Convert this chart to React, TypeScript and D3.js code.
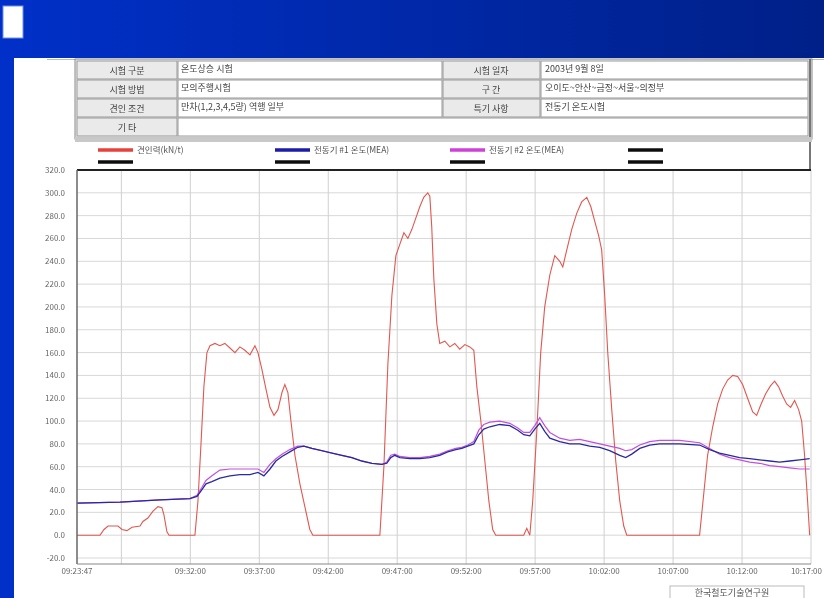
import React from "react";
import * as d3 from "d3";

// ---------- DATA ----------
// elapsed minutes since 09:23:47
const redT = [0,1.67,1.96,2.25,2.97,3.26,3.62,3.99,4.57,4.78,5.14,5.51,5.87,6.16,6.3,6.52,6.67,8.55,8.77,8.99,9.2,9.42,9.64,10.0,10.36,10.72,11.09,11.45,11.81,12.17,12.54,12.9,13.12,13.41,13.7,13.99,14.28,14.57,14.86,15.07,15.29,15.51,15.8,16.16,16.52,16.88,17.1,21.96,22.25,22.54,22.83,23.12,23.41,23.7,23.99,24.28,24.57,24.86,25.14,25.43,25.58,25.72,25.87,26.09,26.3,26.67,27.03,27.39,27.75,28.12,28.48,28.77,28.99,29.28,29.57,29.86,30.14,30.36,32.39,32.61,32.83,33.04,33.33,33.62,33.91,34.28,34.64,35.0,35.22,35.51,35.87,36.23,36.59,36.96,37.25,37.54,37.83,38.04,38.26,38.48,38.77,39.06,39.35,39.64,39.86,45.14,45.43,45.72,46.09,46.45,46.81,47.17,47.54,47.9,48.26,48.62,48.99,49.28,49.57,49.93,50.29,50.58,50.87,51.16,51.45,51.74,52.03,52.32,52.54,52.75,52.97,53.12];
const redV = [0,0,5,8,8,5,4,7,8,12,15,21,25,24,18,3,0,0,30,80,130,160,166,168,166,168,164,160,165,162,158,166,160,145,128,112,105,110,125,132,125,100,70,45,25,5,0,0,60,150,210,245,255,265,260,268,278,288,296,300,297,270,225,185,168,170,165,168,163,167,165,162,130,100,65,30,5,0,0,6,0,30,90,160,200,228,245,240,235,250,268,282,292,296,288,275,262,250,210,160,110,65,30,8,0,0,35,70,95,115,128,136,140,139,132,120,108,105,114,124,131,135,130,122,115,112,118,110,100,70,30,0];

const blueT = [0,3.12,6.01,8.19,8.7,9.06,9.35,9.78,10.36,11.09,11.81,12.54,13.12,13.55,13.99,14.42,14.86,15.43,16.01,16.45,17.03,17.75,18.48,19.2,19.93,20.65,21.38,22.1,22.46,22.75,23.04,23.41,24.13,24.86,25.58,26.3,26.88,27.46,27.9,28.33,28.77,29.13,29.49,29.93,30.65,31.38,31.96,32.39,32.83,33.19,33.55,33.91,34.28,35.0,35.72,36.45,37.17,37.9,38.62,39.35,39.78,40.22,40.8,41.52,42.25,43.7,45.14,45.87,46.59,47.32,48.04,48.77,49.49,50.22,50.94,51.67,52.39,53.12];
const blueV = [28,29,31,32,34,40,45,47,50,52,53,53,55,52,58,65,69,73,77,78,76,74,72,70,68,65,63,62,63,68,70,68,67,67,68,70,73,75,76,78,80,88,93,95,97,96,92,88,87,93,98,91,85,82,80,80,78,77,74,70,68,71,76,79,80,80,79,75,72,70,68,67,66,65,64,65,66,67];
const magV = [28,29,31,32,35,42,48,52,57,58,58,58,58,55,62,67,71,75,78,78,76,74,72,70,68,65,63,62,64,70,71,69,68,68,69,71,74,76,77,79,82,92,97,99,100,98,94,90,90,96,103,96,90,85,83,84,82,80,78,76,74,75,79,82,83,83,81,76,71,68,66,64,63,61,60,59,58,58];

const yTicks = [320,300,280,260,240,220,200,180,160,140,120,100,80,60,40,20,0,-20];
const startLabel = "09:23:47";
const gridTimes = ["09:27:00","09:32:00","09:37:00","09:42:00","09:47:00","09:52:00","09:57:00","10:02:00","10:07:00","10:12:00","10:17:00"];
const labeledTimes = ["09:32:00","09:37:00","09:42:00","09:47:00","09:52:00","09:57:00","10:02:00","10:07:00","10:12:00","10:17:00"];

const tableLeft = [["시험 구분","온도상승 시험"],["시험 방법","모의주행시험"],["견인 조건","만차(1,2,3,4,5량) 역행 일부"]];
const tableRight = [["시험 일자","2003년 9월 8일"],["구   간","오이도~안산~금정~서울~의정부"],["특기 사항","전동기 온도시험"]];
const etcLabel = "기   타";
const legendNames = ["견인력(kN/t)","전동기 #1 온도(MEA)","전동기 #2 온도(MEA)",""];
const legendColors = ["#e8413a","#1a1aa8","#d040d8","#111"];
const footer = "한국철도기술연구원";

const toMin = (s: string) => {
  const [h, m, sec] = s.split(":").map(Number);
  const [h0, m0, s0] = startLabel.split(":").map(Number);
  return ((h * 3600 + m * 60 + sec) - (h0 * 3600 + m0 * 60 + s0)) / 60;
};

const KR = "'Noto Sans CJK KR', 'Noto Sans', sans-serif";

export default function App() {
  const W = 824, H = 598;
  const L = 77, R = 811, T = 170, B = 564;
  const x = d3.scaleLinear().domain([0, toMin("10:17:00")]).range([L, R]);
  const y = d3.scaleLinear().domain([-20, 320]).range([558, T]);

  const line = d3.line<[number, number]>().x(d => x(d[0])).y(d => y(d[1]));
  const red = line(redT.map((t, i) => [t, redV[i]]) as [number, number][]) || "";
  const blue = line(blueT.map((t, i) => [t, blueV[i]]) as [number, number][]) || "";
  const mag = line(blueT.map((t, i) => [t, magV[i]]) as [number, number][]) || "";

  const rows = [61, 80, 99, 118];
  const rowH = 18;

  const legX = [98, 275, 450, 628];

  return (
    <svg width={W} height={H} style={{ position: "absolute", left: 0, top: 0 }} fontFamily={KR}>
      <defs>
        <linearGradient id="bg" x1="0" x2="1" y1="0" y2="0">
          <stop offset="0" stopColor="#0030c8" />
          <stop offset="1" stopColor="#002088" />
        </linearGradient>
        <filter id="soft"><feGaussianBlur stdDeviation="0.45" /></filter>
      </defs>
      <rect x={0} y={0} width={W} height={H} fill="url(#bg)" />
      <rect x={3} y={6} width={20} height={32} fill="#fff" stroke="#6f8fe8" strokeWidth={1} />
      {/* screenshot area */}
      <rect x={14} y={58} width={W - 14} height={H - 58} fill="#fff" />
      <line x1={47} x2={W} y1={59.5} y2={59.5} stroke="#bbb" />

      {/* table */}
      <g filter="url(#soft)">
        <rect x={75} y={59} width={737} height={80} fill="#efefef" stroke="#888" />
        {rows.slice(0, 3).map((ry, i) => (
          <g key={i}>
            <rect x={77} y={ry} width={100} height={rowH} fill="#eaeaea" stroke="#999" />
            <rect x={178} y={ry} width={264} height={rowH} fill="#fff" stroke="#999" />
            <rect x={443} y={ry} width={97} height={rowH} fill="#eaeaea" stroke="#999" />
            <rect x={541} y={ry} width={267} height={rowH} fill="#fff" stroke="#999" />
            <text x={127} y={ry + 13} fontSize={9} textAnchor="middle" fill="#444">{tableLeft[i][0]}</text>
            <text x={181} y={ry + 11} fontSize={9} fill="#444">{tableLeft[i][1]}</text>
            <text x={491} y={ry + 13} fontSize={9} textAnchor="middle" fill="#444">{tableRight[i][0]}</text>
            <text x={545} y={ry + 11} fontSize={9} fill="#444">{tableRight[i][1]}</text>
          </g>
        ))}
        <rect x={77} y={rows[3]} width={100} height={rowH} fill="#eaeaea" stroke="#999" />
        <rect x={178} y={rows[3]} width={630} height={rowH} fill="#fff" stroke="#999" />
        <text x={127} y={rows[3] + 13} fontSize={9} textAnchor="middle" fill="#444">{etcLabel}</text>
        <line x1={810} x2={810} y1={59} y2={170} stroke="#777" strokeWidth={2} />
        <rect x={75} y={137} width={737} height={5} fill="#c8c8c8" />
        {legX.map((lx, i) => (
          <g key={i}>
            <line x1={lx} x2={lx + 35} y1={150} y2={150} stroke={legendColors[i]} strokeWidth={3.5} />
            <text x={lx + 39} y={153} fontSize={8.5} fill="#555">{legendNames[i]}</text>
            <line x1={lx} x2={lx + 35} y1={162} y2={162} stroke="#111" strokeWidth={3.5} />
          </g>
        ))}
      </g>

      {/* plot */}
      <g filter="url(#soft)">
        {yTicks.map(v => (
          <line key={v} x1={L} x2={R} y1={y(v)} y2={y(v)} stroke="#d8d8d8" strokeWidth={1} />
        ))}
        {gridTimes.map(t => (
          <line key={t} x1={x(toMin(t))} x2={x(toMin(t))} y1={T} y2={B} stroke="#d0d0d0" strokeWidth={1} />
        ))}
        <path d={red} fill="none" stroke="#e05850" strokeWidth={1.1} />
        <path d={mag} fill="none" stroke="#c050e0" strokeWidth={1.2} />
        <path d={blue} fill="none" stroke="#2a2aa0" strokeWidth={1.3} />
        <line x1={L} x2={R} y1={T} y2={T} stroke="#222" strokeWidth={2} />
        <line x1={L} x2={L} y1={T} y2={B} stroke="#666" strokeWidth={1.5} />
        <line x1={L} x2={R} y1={B} y2={B} stroke="#888" strokeWidth={1.2} />
        {yTicks.map(v => (
          <text key={v} x={65} y={y(v) + 3} fontSize={8} textAnchor="end" fill="#666">{v.toFixed(1)}</text>
        ))}
        <text x={x(0)} y={574} fontSize={8} textAnchor="middle" fill="#666">{startLabel}</text>
        {labeledTimes.map((t, i) => {
          const last = i === labeledTimes.length - 1;
          return (
            <text key={t} x={last ? W - 2 : x(toMin(t))} y={574} fontSize={8}
              textAnchor={last ? "end" : "middle"} fill="#666">{t}</text>
          );
        })}
        <rect x={670} y={586} width={134} height={14} fill="#fff" stroke="#bbb" />
        <text x={732} y={596} fontSize={9} textAnchor="middle" fill="#555">{footer}</text>
      </g>
    </svg>
  );
}
